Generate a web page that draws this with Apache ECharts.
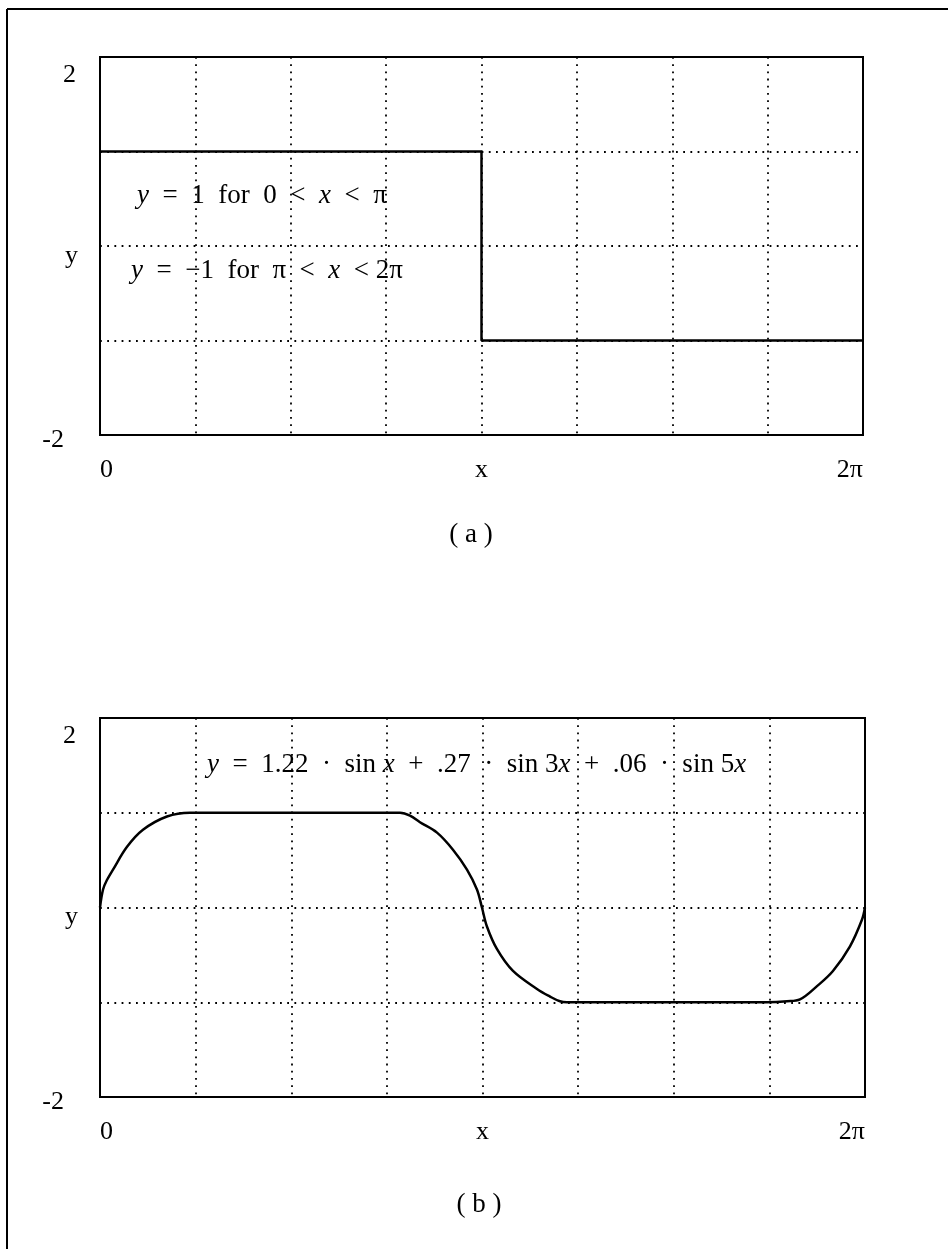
<!DOCTYPE html>
<html>
<head>
<meta charset="utf-8">
<script src="https://cdn.jsdelivr.net/npm/echarts@6/dist/echarts.min.js"></script>
<style>
  html, body { margin: 0; padding: 0; background: #fff; }
  #chart { width: 948px; height: 1249px; }
</style>
</head>
<body>
<div id="chart"></div>
<script>
// Panel (a): ideal square wave, +1 on (0, π), -1 on (π, 2π)
const squareX = [0, Math.PI, Math.PI, 2 * Math.PI];
const squareY = [1, 1, -1, -1];

// Panel (b): three-term Fourier sum as plotted (sampled points, radians)
const fourierX = [0, 0.025, 0.057, 0.107, 0.222, 0.353, 0.550, 0.739, 2.464,
  2.546, 2.628, 2.768, 2.899, 3.014, 3.096, 3.137, 3.178, 3.261, 3.392,
  3.589, 3.696, 3.778, 3.835, 5.478, 5.643, 5.749, 5.889, 6.020, 6.160,
  6.258, 6.283];
const fourierY = [0, 0.19, 0.29, 0.40, 0.64, 0.82, 0.96, 1.0, 1.0,
  0.97, 0.90, 0.79, 0.61, 0.40, 0.19, 0, -0.20, -0.44, -0.67,
  -0.86, -0.94, -0.99, -1.0, -1.0, -0.99, -0.97, -0.83, -0.67, -0.41,
  -0.13, 0];

// Axis tick labels (only these ticks carry text)
const xTickValues = [0, Math.PI, 2 * Math.PI];
const xTickLabels = ['0', 'x', '2π'];
const yTickValues = [2, 0, -2];
const yTickLabels = ['2', 'y', '-2'];
const yTickStyles = ['top', 'mid', 'bot'];

const panelLabels = ['( a )', '( b )'];

const SERIF = '"Liberation Serif", "DejaVu Serif", serif';
const FS = 26;   // tick labels
const MS = 27;   // math annotations
const SP = '\u2002';

function pairs(xs, ys) { return xs.map((x, i) => [x, ys[i]]); }

function xLabel(v) {
  for (let i = 0; i < xTickValues.length; i++) {
    if (Math.abs(v - xTickValues[i]) < 1e-6) return xTickLabels[i];
  }
  return '';
}
function yLabel(v) {
  for (let i = 0; i < yTickValues.length; i++) {
    if (Math.abs(v - yTickValues[i]) < 1e-6) return '{' + yTickStyles[i] + '|' + yTickLabels[i] + '}';
  }
  return '';
}

const dotted = { color: '#000', width: 1.8, type: [1.8, 5.4], cap: 'butt' };

function xAxisFor(gi) {
  return {
    type: 'value', gridIndex: gi, min: 0, max: 2 * Math.PI, interval: Math.PI / 4,
    axisLine: { show: false }, axisTick: { show: false },
    splitLine: { show: true, lineStyle: dotted },
    axisLabel: {
      formatter: xLabel, margin: 22, color: '#000', fontFamily: SERIF, fontSize: FS,
      alignMinLabel: 'left', alignMaxLabel: 'right', showMinLabel: true, showMaxLabel: true
    }
  };
}
function yAxisFor(gi) {
  return {
    type: 'value', gridIndex: gi, min: -2, max: 2, interval: 1,
    axisLine: { show: false }, axisTick: { show: false },
    splitLine: { show: true, lineStyle: dotted },
    axisLabel: {
      formatter: yLabel, margin: 22, color: '#000', fontFamily: SERIF, fontSize: FS,
      showMinLabel: true, showMaxLabel: true,
      rich: {
        top: { fontFamily: SERIF, fontSize: FS, color: '#000', padding: [36, 2, 0, 0] },
        mid: { fontFamily: SERIF, fontSize: FS, color: '#000', padding: [20, 0, 0, 0] },
        bot: { fontFamily: SERIF, fontSize: FS, color: '#000', padding: [10, 14, 0, 0] }
      }
    }
  };
}

const mathRich = {
  r: { fontFamily: SERIF, fontSize: MS, color: '#000' },
  i: { fontFamily: SERIF, fontSize: MS, fontStyle: 'italic', color: '#000' }
};
function mtext(parts) { return parts.join(''); }

const chart = echarts.init(document.getElementById('chart'), null, { renderer: 'canvas' });
chart.setOption({
  animation: false,
  backgroundColor: '#fff',
  grid: [
    { left: 100, top: 57, width: 763, height: 378, show: true, borderColor: '#000', borderWidth: 2, backgroundColor: 'transparent' },
    { left: 100, top: 718, width: 765, height: 379, show: true, borderColor: '#000', borderWidth: 2, backgroundColor: 'transparent' }
  ],
  xAxis: [xAxisFor(0), xAxisFor(1)],
  yAxis: [yAxisFor(0), yAxisFor(1)],
  series: [
    {
      type: 'line', xAxisIndex: 0, yAxisIndex: 0, data: pairs(squareX, squareY),
      symbol: 'none', lineStyle: { color: '#000', width: 2.5 }, z: 5
    },
    {
      type: 'line', xAxisIndex: 1, yAxisIndex: 1, data: pairs(fourierX, fourierY),
      symbol: 'none', smooth: 0.35, lineStyle: { color: '#000', width: 2.5 }, z: 5
    }
  ],
  graphic: [
    // outer frame (left and top rules)
    { type: 'line', shape: { x1: 7, y1: 9, x2: 7, y2: 1249 }, style: { stroke: '#000', lineWidth: 2 } },
    { type: 'line', shape: { x1: 7, y1: 9, x2: 948, y2: 9 }, style: { stroke: '#000', lineWidth: 2 } },
    // annotations in panel (a)
    {
      type: 'text', left: 137, top: 182, z: 10,
      style: {
        text: mtext(['{i|y}', '{r|', SP, '=', SP, '1', SP, 'for', SP, '0', SP, '<', SP, '}', '{i|x}', '{r|', SP, '<', SP, 'π}']),
        rich: mathRich, font: MS + 'px ' + SERIF, fill: '#000'
      }
    },
    {
      type: 'text', left: 131, top: 257, z: 10,
      style: {
        text: mtext(['{i|y}', '{r|', SP, '=', SP, '−1', SP, 'for', SP, 'π', SP, '<', SP, '}', '{i|x}', '{r|', SP, '<', ' ', '2π}']),
        rich: mathRich, font: MS + 'px ' + SERIF, fill: '#000'
      }
    },
    // formula in panel (b)
    {
      type: 'text', left: 207, top: 751, z: 10,
      style: {
        text: mtext(['{i|y}', '{r|', SP, '=', SP, '1.22', SP, '·', SP, 'sin }', '{i|x}',
          '{r|', SP, '+', SP, '.27', SP, '·', SP, 'sin 3}', '{i|x}',
          '{r|', SP, '+', SP, '.06', SP, '·', SP, 'sin 5}', '{i|x}']),
        rich: mathRich, font: MS + 'px ' + SERIF, fill: '#000'
      }
    },
    // panel captions
    {
      type: 'text', x: 471, y: 535, z: 10,
      style: { text: panelLabels[0], font: MS + 'px ' + SERIF, fill: '#000', align: 'center', verticalAlign: 'middle' }
    },
    {
      type: 'text', x: 479, y: 1205, z: 10,
      style: { text: panelLabels[1], font: MS + 'px ' + SERIF, fill: '#000', align: 'center', verticalAlign: 'middle' }
    }
  ]
});
</script>
</body>
</html>
